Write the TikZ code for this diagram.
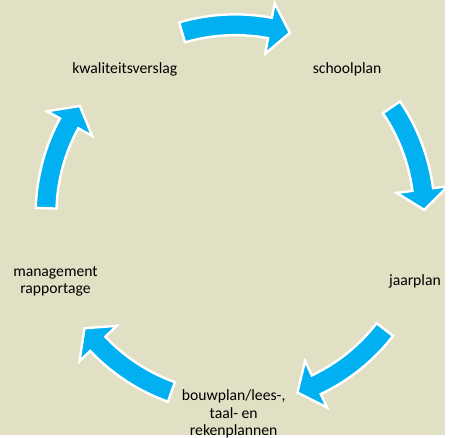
\documentclass[tikz,border=0pt]{standalone}
\usepackage{fontspec}
\setmainfont{Carlito}
\definecolor{paper}{RGB}{225,223,196}
\definecolor{arrowblue}{RGB}{0,176,240}
\tikzset{
	plantext/.style={align=center, text=black, inner sep=0pt, font=\fontsize{9}{9.9}\selectfont},
	cyclearrow/.pic={
		\filldraw[fill=arrowblue, draw=white, line width=1.4pt]
		(106.3:201.5) arc[start angle=106.3, end angle=79.4, radius=201.5]
		-- (79.4:216.5) -- (73.2:191) -- (79.4:164.5) -- (79.4:180.5)
		arc[start angle=79.4, end angle=106.3, radius=180.5] -- cycle;
	}
}
\begin{document}
\begin{tikzpicture}[x=0.02cm, y=0.02cm]
			\fill[paper] (0,0) rectangle (449,439);
			\coordinate (C) at (237.5,223);
			
			\pic at (C) {cyclearrow};
			\pic[rotate=-72] at (C) {cyclearrow};
			\pic[rotate=-144] at (C) {cyclearrow};
			\pic[rotate=144] at (C) {cyclearrow};
			\pic[rotate=72] at (C) {cyclearrow};
			
			\node[plantext] at (350.5,368.5) (schoolplan) {schoolplan};
			\node[plantext] at (419,155) (jaarplan) {jaarplan};
			\node[plantext] at (236,21) (bouwplan) {bouwplan/lees-,\\taal- en\\rekenplannen};
			\node[plantext] at (56,154.5) (rapportage) {management\\rapportage};
			\node[plantext] at (126,368.5) (verslag) {kwaliteitsverslag};
		\end{tikzpicture}
\end{document}
